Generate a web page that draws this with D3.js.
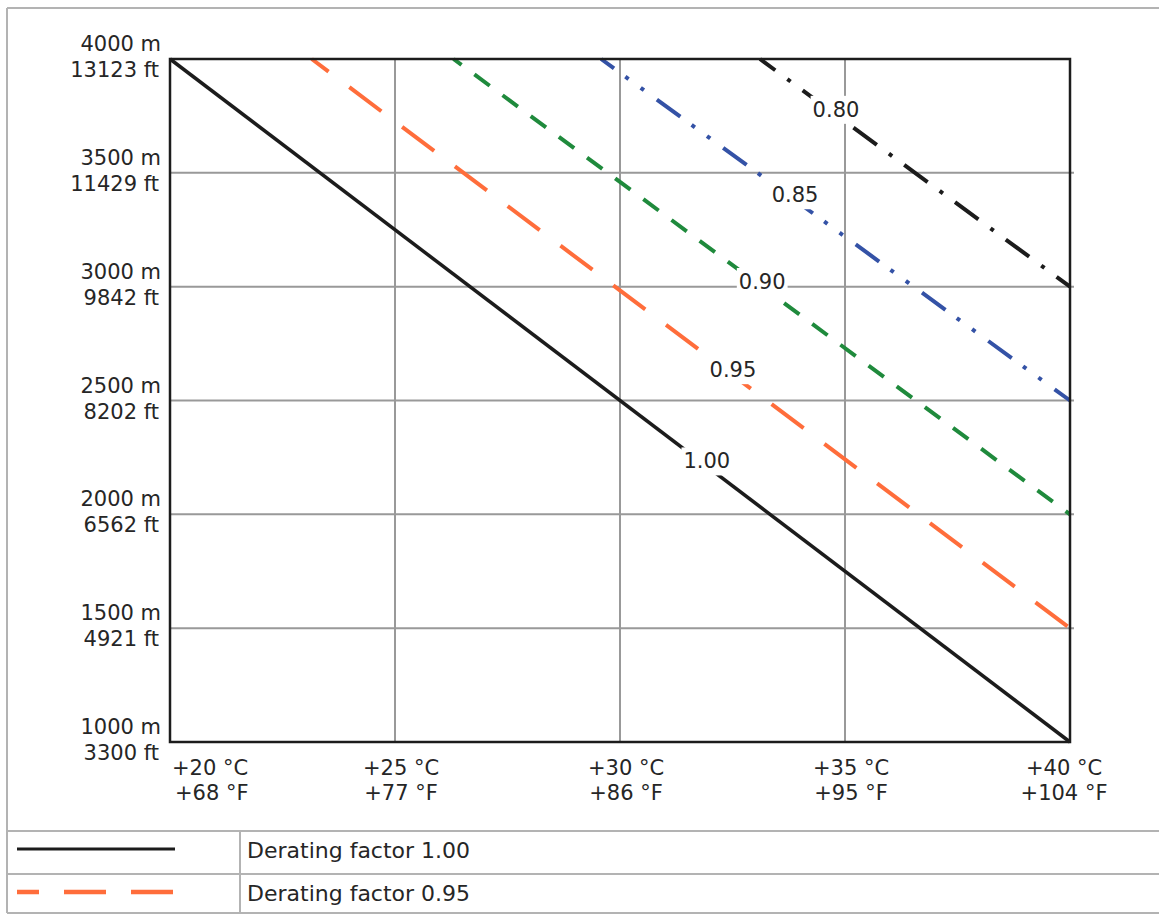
<!DOCTYPE html>
<html>
<head>
<meta charset="utf-8">
<script src="https://cdn.jsdelivr.net/npm/d3@7"></script>
<style>
  html, body { margin: 0; padding: 0; background: #fff; }
  svg { display: block; }
  text { font-family: "DejaVu Sans", sans-serif; fill: #262626; }
</style>
</head>
<body>
<svg id="chart" width="1159" height="917"></svg>
<script>
// ---- data ----
const tempTicks = [20, 25, 30, 35, 40];
const tempLabelsC = ["+20 °C", "+25 °C", "+30 °C", "+35 °C", "+40 °C"];
const tempLabelsF = ["+68 °F", "+77 °F", "+86 °F", "+95 °F", "+104 °F"];

const altTicks = [1000, 1500, 2000, 2500, 3000, 3500, 4000];
const altLabelsM = ["1000 m", "1500 m", "2000 m", "2500 m", "3000 m", "3500 m", "4000 m"];
const altLabelsFt = ["3300 ft", "4921 ft", "6562 ft", "8202 ft", "9842 ft", "11429 ft", "13123 ft"];

const factors = ["1.00", "0.95", "0.90", "0.85", "0.80"];
const startTemp = [20, 23.15, 26.3, 29.58, 33.11];   // temperature at 4000 m
const startAlt = [4000, 4000, 4000, 4000, 4000];
const endTemp = [40, 40, 40, 40, 40];
const endAlt = [1000, 1500, 2000, 2500, 3000];         // altitude at +40 °C
const labelTemp = [31.93, 32.51, 33.16, 33.89, 34.8];  // where the factor label sits on its line

const legendLabels = ["Derating factor 1.00", "Derating factor 0.95"];

// ---- styles ----
const styles = [
  { color: "#1c1c1c", width: 3.5, dash: null, offset: 0 },
  { color: "#ff6d3b", width: 4, dash: "40,26", offset: 19 },
  { color: "#1f8a3c", width: 4, dash: "19,16", offset: 9 },
  { color: "#3452a6", width: 4, dash: "29,14,4,15,4,16", offset: 13 },
  { color: "#1c1c1c", width: 4, dash: "29,15,4,15", offset: 10 }
];

const svg = d3.select("#chart");
const pLeft = 170, pRight = 1070, pTop = 59, pBottom = 742;

const x = d3.scaleLinear().domain([20, 40]).range([pLeft, pRight]);
const y = d3.scaleLinear().domain([1000, 4000]).range([pBottom, pTop]);

// ---- outer frame & table ----
const frame = svg.append("g").attr("stroke", "#b3b3b3").attr("stroke-width", 2);
frame.append("line").attr("x1", 7).attr("x2", 7).attr("y1", 8).attr("y2", 913);
frame.append("line").attr("x1", 7).attr("x2", 1159).attr("y1", 8).attr("y2", 8);
[831, 874, 913].forEach(yy =>
  frame.append("line").attr("x1", 7).attr("x2", 1159).attr("y1", yy).attr("y2", yy));
frame.append("line").attr("x1", 240).attr("x2", 240).attr("y1", 831).attr("y2", 913);

// ---- grid ----
const grid = svg.append("g").attr("stroke", "#999").attr("stroke-width", 2);
grid.selectAll(".hg").data(altTicks.slice(1, -1)).join("line")
  .attr("x1", pLeft).attr("x2", pRight + 4)
  .attr("y1", d => y(d)).attr("y2", d => y(d));
grid.selectAll(".vg").data(tempTicks.slice(1, -1)).join("line")
  .attr("x1", d => x(d)).attr("x2", d => x(d))
  .attr("y1", pTop).attr("y2", pBottom);

// ---- series lines ----
const series = factors.map((f, i) => ({
  f, i,
  pts: [[startTemp[i], startAlt[i]], [endTemp[i], endAlt[i]]]
}));
const lineGen = d3.line().x(d => x(d[0])).y(d => y(d[1]));

svg.append("g").selectAll("path").data(series).join("path")
  .attr("d", d => lineGen(d.pts))
  .attr("fill", "none")
  .attr("stroke", d => styles[d.i].color)
  .attr("stroke-width", d => styles[d.i].width)
  .attr("stroke-dasharray", d => styles[d.i].dash)
  .attr("stroke-dashoffset", d => styles[d.i].offset)
  .attr("stroke-linecap", "butt");

// ---- plot border ----
svg.append("rect")
  .attr("x", pLeft).attr("y", pTop)
  .attr("width", pRight - pLeft).attr("height", pBottom - pTop)
  .attr("fill", "none").attr("stroke", "#1c1c1c").attr("stroke-width", 2.5);

// ---- factor labels ----
const lab = svg.append("g");
series.forEach(s => {
  const t = labelTemp[s.i];
  const frac = (t - startTemp[s.i]) / (endTemp[s.i] - startTemp[s.i]);
  const alt = startAlt[s.i] + frac * (endAlt[s.i] - startAlt[s.i]);
  const px = x(t), py = y(alt);
  const txt = lab.append("text")
    .attr("x", px).attr("y", py + 2)
    .attr("text-anchor", "middle")
    .attr("font-size", 21)
    .text(s.f);
  const bb = txt.node().getBBox();
  lab.insert("rect", () => txt.node())
    .attr("x", bb.x - 2).attr("y", bb.y - 2)
    .attr("width", bb.width + 4).attr("height", bb.height + 4)
    .attr("fill", "#fff");
});

// ---- y axis labels ----
const yl = svg.append("g").attr("font-size", 21).attr("text-anchor", "end");
altTicks.forEach((a, i) => {
  yl.append("text").attr("x", 161).attr("y", y(a) - 8).text(altLabelsM[i]);
  yl.append("text").attr("x", 159).attr("y", y(a) + 18).text(altLabelsFt[i]);
});

// ---- x axis labels ----
const xl = svg.append("g").attr("font-size", 21);
tempTicks.forEach((t, i) => {
  const anchor = i === 0 ? "start" : "middle";
  const dx = i === 0 ? 2 : (i === tempTicks.length - 1 ? -6 : 6);
  xl.append("text").attr("x", x(t) + dx).attr("y", 775).attr("text-anchor", anchor).text(tempLabelsC[i]);
  xl.append("text").attr("x", x(t) + dx + (i === 0 ? 3 : 0)).attr("y", 800).attr("text-anchor", anchor).text(tempLabelsF[i]);
});

// ---- legend ----
const lg = svg.append("g");
const legendRows = [852, 895];
legendLabels.forEach((l, i) => {
  lg.append("line")
    .attr("x1", 17).attr("x2", 175)
    .attr("y1", legendRows[i] - 3).attr("y2", legendRows[i] - 3)
    .attr("stroke", styles[i].color)
    .attr("stroke-width", i === 0 ? 3 : 4.5)
    .attr("stroke-dasharray", i === 0 ? null : "42,25")
    .attr("stroke-dashoffset", i === 0 ? 0 : 20);
  lg.append("text").attr("x", 247).attr("y", legendRows[i] + 6)
    .attr("font-size", 22).text(l);
});
</script>
</body>
</html>
